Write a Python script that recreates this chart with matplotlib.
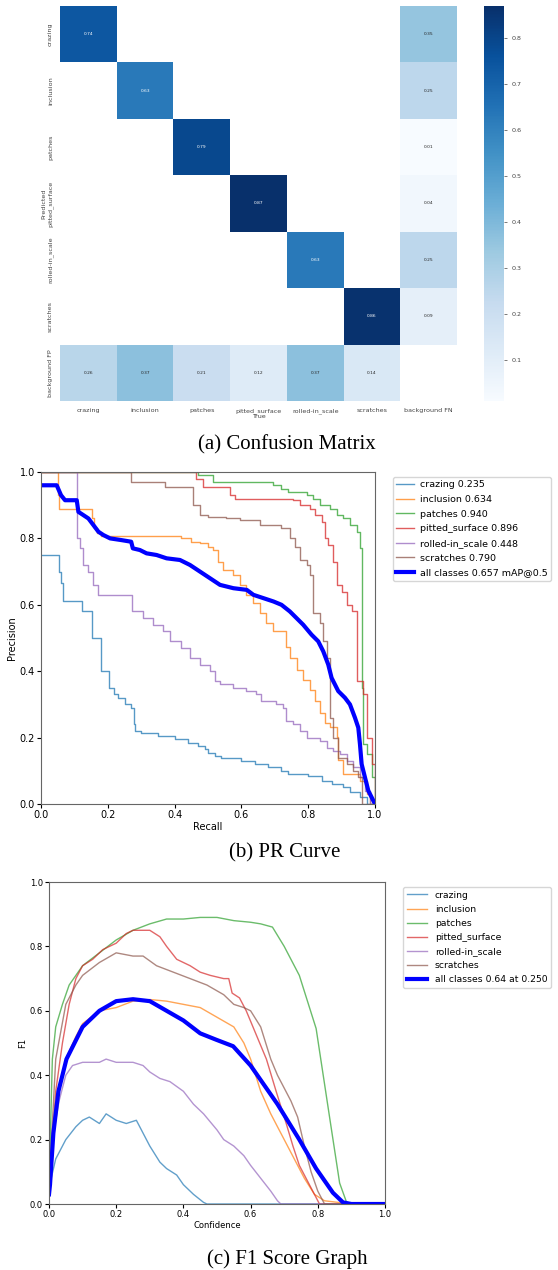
import numpy as np
import matplotlib
matplotlib.use("Agg")
import matplotlib.pyplot as plt
import seaborn as sns

# ---- confusion matrix data ----
pred_labels = ["crazing", "inclusion", "patches", "pitted_surface", "rolled-in_scale", "scratches", "background FP"]
true_labels = ["crazing", "inclusion", "patches", "pitted_surface", "rolled-in_scale", "scratches", "background FN"]
diag_vals = [0.74, 0.63, 0.79, 0.87, 0.63, 0.86]
bg_fn_vals = [0.35, 0.25, 0.01, 0.04, 0.25, 0.09]
bg_fp_vals = [0.26, 0.37, 0.21, 0.12, 0.37, 0.14]

# ---- PR curve data (recall, precision) ----
class_names = ["crazing", "inclusion", "patches", "pitted_surface", "rolled-in_scale", "scratches"]
ap_vals = [0.235, 0.634, 0.940, 0.896, 0.448, 0.790]
map50 = 0.657

crazing_r = [0, 0.055, 0.060, 0.065, 0.122, 0.152, 0.180, 0.205, 0.220, 0.232, 0.252, 0.270, 0.277, 0.282, 0.30,
             0.35, 0.40, 0.44, 0.47, 0.49, 0.50, 0.52, 0.54, 0.60, 0.64, 0.68, 0.72, 0.74, 0.80, 0.84, 0.87,
             0.905, 0.925, 0.955, 0.975, 1.0]
crazing_p = [0.75, 0.70, 0.665, 0.61, 0.58, 0.50, 0.40, 0.35, 0.33, 0.32, 0.30, 0.29, 0.24, 0.22, 0.215,
             0.205, 0.195, 0.185, 0.175, 0.165, 0.155, 0.145, 0.14, 0.13, 0.12, 0.11, 0.10, 0.09, 0.085, 0.07, 0.06,
             0.05, 0.035, 0.02, 0.0, 0.0]

inclusion_r = [0, 0.050, 0.055, 0.152, 0.160, 0.168, 0.180, 0.42, 0.45, 0.476, 0.50, 0.516, 0.53, 0.546, 0.576,
               0.596, 0.615, 0.636, 0.655, 0.675, 0.695, 0.735, 0.745, 0.765, 0.785, 0.805, 0.82, 0.835, 0.85,
               0.865, 0.885, 0.89, 0.905, 0.955, 0.975, 0.985, 1.0]
inclusion_p = [1.0, 0.93, 0.89, 0.86, 0.83, 0.815, 0.808, 0.80, 0.79, 0.786, 0.775, 0.766, 0.73, 0.705, 0.69,
               0.66, 0.63, 0.605, 0.575, 0.545, 0.52, 0.474, 0.44, 0.404, 0.374, 0.344, 0.31, 0.273, 0.243,
               0.233, 0.203, 0.133, 0.09, 0.07, 0.03, 0.0, 0.0]

patches_r = [0, 0.47, 0.515, 0.695, 0.72, 0.74, 0.795, 0.815, 0.835, 0.865, 0.885, 0.905, 0.925, 0.945, 0.955,
             0.962, 0.965, 0.975, 0.99, 1.0]
patches_p = [1.0, 0.99, 0.97, 0.96, 0.95, 0.94, 0.93, 0.92, 0.90, 0.89, 0.87, 0.86, 0.84, 0.82, 0.77,
             0.35, 0.18, 0.15, 0.08, 0.0]

pitted_r = [0, 0.465, 0.485, 0.565, 0.58, 0.755, 0.775, 0.805, 0.82, 0.84, 0.85, 0.86, 0.875, 0.885, 0.90,
            0.915, 0.93, 0.945, 0.965, 0.975, 0.99, 1.0]
pitted_p = [1.0, 0.98, 0.955, 0.93, 0.92, 0.915, 0.90, 0.89, 0.87, 0.85, 0.80, 0.78, 0.73, 0.66, 0.64,
            0.60, 0.58, 0.37, 0.33, 0.20, 0.12, 0.0]

rolled_r = [0, 0.108, 0.117, 0.127, 0.14, 0.157, 0.172, 0.272, 0.305, 0.335, 0.366, 0.386, 0.42, 0.445, 0.475,
            0.505, 0.52, 0.536, 0.576, 0.615, 0.645, 0.66, 0.705, 0.725, 0.735, 0.755, 0.775, 0.795, 0.835,
            0.855, 0.875, 0.895, 0.915, 0.935, 0.955, 0.97, 0.985, 1.0]
rolled_p = [1.0, 0.80, 0.77, 0.72, 0.70, 0.66, 0.63, 0.58, 0.56, 0.54, 0.52, 0.49, 0.47, 0.44, 0.42,
            0.40, 0.37, 0.36, 0.35, 0.34, 0.33, 0.31, 0.30, 0.29, 0.25, 0.24, 0.22, 0.20, 0.19,
            0.17, 0.16, 0.15, 0.13, 0.11, 0.08, 0.04, 0.0, 0.0]

scratches_r = [0, 0.27, 0.37, 0.455, 0.475, 0.50, 0.555, 0.595, 0.655, 0.72, 0.745, 0.76, 0.775, 0.795, 0.805,
               0.815, 0.835, 0.845, 0.855, 0.865, 0.875, 0.89, 0.915, 0.935, 0.95, 0.96, 1.0]
scratches_p = [1.0, 0.97, 0.955, 0.90, 0.87, 0.865, 0.86, 0.855, 0.84, 0.83, 0.80, 0.775, 0.735, 0.72, 0.69,
               0.575, 0.545, 0.49, 0.44, 0.26, 0.20, 0.14, 0.12, 0.10, 0.08, 0.0, 0.0]

all_r = [0, 0.047, 0.06, 0.072, 0.107, 0.112, 0.127, 0.142, 0.157, 0.172, 0.187, 0.207, 0.24, 0.27, 0.275,
         0.296, 0.316, 0.346, 0.376, 0.416, 0.446, 0.476, 0.506, 0.536, 0.576, 0.616, 0.636, 0.666, 0.696,
         0.72, 0.745, 0.765, 0.785, 0.81, 0.83, 0.845, 0.86, 0.87, 0.89, 0.91, 0.925, 0.94, 0.95, 0.955,
         0.96, 0.97, 0.98, 0.99, 1.0]
all_p = [0.96, 0.96, 0.93, 0.915, 0.915, 0.88, 0.87, 0.86, 0.84, 0.82, 0.81, 0.80, 0.795, 0.79, 0.77,
         0.765, 0.755, 0.75, 0.74, 0.735, 0.72, 0.70, 0.68, 0.66, 0.65, 0.645, 0.63, 0.62, 0.61,
         0.60, 0.58, 0.56, 0.54, 0.51, 0.49, 0.46, 0.42, 0.38, 0.34, 0.32, 0.30, 0.26, 0.23, 0.18,
         0.12, 0.08, 0.04, 0.02, 0.0]

# ---- F1 curve data (confidence, f1) ----
f1_crazing_c = [0, 0.02, 0.05, 0.08, 0.10, 0.12, 0.15, 0.17, 0.20, 0.23, 0.26, 0.28, 0.30, 0.33, 0.35, 0.38,
                0.40, 0.43, 0.46, 0.47, 1.0]
f1_crazing_v = [0.05, 0.14, 0.20, 0.24, 0.26, 0.27, 0.25, 0.28, 0.26, 0.25, 0.26, 0.22, 0.18, 0.13, 0.11, 0.09,
                0.06, 0.03, 0.005, 0.0, 0.0]

f1_inclusion_c = [0, 0.02, 0.05, 0.08, 0.10, 0.15, 0.20, 0.25, 0.30, 0.35, 0.40, 0.45, 0.50, 0.55, 0.58, 0.60,
                  0.63, 0.66, 0.70, 0.73, 0.76, 0.79, 0.82, 0.86, 0.90, 1.0]
f1_inclusion_v = [0.05, 0.30, 0.45, 0.52, 0.56, 0.60, 0.61, 0.63, 0.635, 0.63, 0.62, 0.61, 0.58, 0.55, 0.50, 0.45,
                  0.35, 0.28, 0.20, 0.14, 0.08, 0.03, 0.01, 0.005, 0.0, 0.0]

f1_patches_c = [0, 0.01, 0.02, 0.04, 0.06, 0.10, 0.15, 0.20, 0.25, 0.30, 0.35, 0.40, 0.45, 0.50, 0.55, 0.60,
                0.63, 0.665, 0.70, 0.745, 0.795, 0.835, 0.865, 0.885, 0.90, 1.0]
f1_patches_v = [0.05, 0.45, 0.55, 0.62, 0.68, 0.74, 0.78, 0.82, 0.85, 0.87, 0.885, 0.885, 0.89, 0.89, 0.88, 0.875,
                0.87, 0.86, 0.80, 0.71, 0.545, 0.27, 0.065, 0.007, 0.0, 0.0]

f1_pitted_c = [0, 0.02, 0.04, 0.06, 0.08, 0.10, 0.13, 0.16, 0.20, 0.23, 0.25, 0.30, 0.33, 0.35, 0.38, 0.42,
               0.45, 0.48, 0.52, 0.535, 0.545, 0.567, 0.587, 0.607, 0.627, 0.647, 0.676, 0.706, 0.726, 0.745,
               0.765, 0.785, 0.805, 1.0]
f1_pitted_v = [0.05, 0.35, 0.50, 0.62, 0.70, 0.74, 0.76, 0.79, 0.81, 0.84, 0.85, 0.85, 0.83, 0.80, 0.76, 0.74,
               0.72, 0.71, 0.70, 0.70, 0.655, 0.64, 0.60, 0.55, 0.50, 0.45, 0.35, 0.25, 0.18, 0.12,
               0.08, 0.04, 0.0, 0.0]

f1_rolled_c = [0, 0.01, 0.03, 0.05, 0.07, 0.10, 0.15, 0.17, 0.20, 0.25, 0.28, 0.30, 0.33, 0.36, 0.40, 0.43,
               0.46, 0.50, 0.52, 0.55, 0.58, 0.60, 0.63, 0.66, 0.68, 0.69, 1.0]
f1_rolled_v = [0.05, 0.20, 0.32, 0.40, 0.43, 0.44, 0.44, 0.45, 0.44, 0.44, 0.43, 0.41, 0.39, 0.38, 0.35, 0.31,
               0.28, 0.23, 0.20, 0.18, 0.15, 0.12, 0.08, 0.04, 0.01, 0.0, 0.0]

f1_scratches_c = [0, 0.02, 0.05, 0.08, 0.10, 0.15, 0.20, 0.25, 0.28, 0.32, 0.37, 0.42, 0.47, 0.52, 0.55, 0.58,
                  0.60, 0.63, 0.66, 0.68, 0.70, 0.72, 0.74, 0.76, 0.78, 0.80, 0.82, 1.0]
f1_scratches_v = [0.05, 0.45, 0.62, 0.68, 0.71, 0.75, 0.78, 0.77, 0.77, 0.74, 0.72, 0.70, 0.68, 0.65, 0.62, 0.61,
                  0.60, 0.55, 0.45, 0.40, 0.36, 0.32, 0.27, 0.18, 0.10, 0.04, 0.0, 0.0]

f1_all_c = [0, 0.003, 0.013, 0.028, 0.052, 0.10, 0.15, 0.20, 0.25, 0.30, 0.35, 0.40, 0.45, 0.498, 0.548,
            0.60, 0.68, 0.745, 0.795, 0.845, 0.875, 0.90, 1.0]
f1_all_v = [0.03, 0.06, 0.22, 0.35, 0.45, 0.55, 0.60, 0.63, 0.636, 0.63, 0.60, 0.57, 0.53, 0.51, 0.49,
            0.43, 0.31, 0.20, 0.11, 0.035, 0.005, 0.0, 0.0]
f1_best = 0.64
f1_best_conf = 0.250

pr_data = [(crazing_r, crazing_p), (inclusion_r, inclusion_p), (patches_r, patches_p),
           (pitted_r, pitted_p), (rolled_r, rolled_p), (scratches_r, scratches_p)]
f1_data = [(f1_crazing_c, f1_crazing_v), (f1_inclusion_c, f1_inclusion_v), (f1_patches_c, f1_patches_v),
           (f1_pitted_c, f1_pitted_v), (f1_rolled_c, f1_rolled_v), (f1_scratches_c, f1_scratches_v)]
colors = ["tab:blue", "tab:orange", "tab:green", "tab:red", "tab:purple", "tab:brown"]

W, H = 558, 1270
fig = plt.figure(figsize=(W / 100, H / 100), dpi=100)


def box(x0, y0, x1, y1):
    # pixel box -> figure fraction
    return [x0 / W, 1 - y1 / H, (x1 - x0) / W, (y1 - y0) / H]


# ---- (a) confusion matrix ----
n = len(diag_vals)
cm = np.full((n + 1, n + 1), np.nan)
for i in range(n):
    cm[i, i] = diag_vals[i]
    cm[i, n] = bg_fn_vals[i]
    cm[n, i] = bg_fp_vals[i]

ax_cm = fig.add_axes(box(60, 6, 457, 401))
ax_cb = fig.add_axes(box(484, 6, 504, 401))
sns.heatmap(cm, ax=ax_cm, cbar_ax=ax_cb, cmap="Blues", annot=True, fmt=".2f",
            annot_kws={"size": 3.2}, xticklabels=true_labels, yticklabels=pred_labels)
ax_cm.tick_params(length=0, labelsize=4.6, labelcolor="#444", pad=5)
ax_cm.set_yticklabels(pred_labels, rotation=90, va="center")
ax_cm.set_xticklabels(true_labels, rotation=0)
ax_cm.set_xlabel("True", fontsize=4.6, color="#444", labelpad=0)
ax_cm.set_ylabel("Predicted", fontsize=4.6, color="#444", labelpad=1)
ax_cb.tick_params(labelsize=4.6, labelcolor="#444", length=2, width=0.5, color="#444")

# ---- (b) PR curve ----
ax_pr = fig.add_axes(box(41, 472, 375, 804))
for (r, p), name, ap, c in zip(pr_data, class_names, ap_vals, colors):
    ax_pr.plot(r, p, drawstyle="steps-post", lw=1, color=c, alpha=0.75, label=f"{name} {ap:.3f}")
ax_pr.plot(all_r, all_p, lw=3, color="blue", label=f"all classes {map50:.3f} mAP@0.5")
ax_pr.set_xlim(0, 1)
ax_pr.set_ylim(0, 1)
ax_pr.set_xlabel("Recall", fontsize=7, labelpad=1)
ax_pr.set_ylabel("Precision", fontsize=7, labelpad=2)
ax_pr.tick_params(labelsize=7, length=3, pad=1.5)
ax_pr.legend(loc="upper left", bbox_to_anchor=(393 / W, 1 - 477 / H), bbox_transform=fig.transFigure,
             fontsize=6.8, borderaxespad=0, handlelength=1.9, handletextpad=0.6, borderpad=0.35,
             labelspacing=0.6)

# ---- (c) F1 curve ----
ax_f1 = fig.add_axes(box(49, 882, 385, 1204))
for (cf, v), name, c in zip(f1_data, class_names, colors):
    ax_f1.plot(cf, v, lw=1, color=c, alpha=0.7, label=name)
ax_f1.plot(f1_all_c, f1_all_v, lw=3, color="blue", label=f"all classes {f1_best:.2f} at {f1_best_conf:.3f}")
ax_f1.set_xlim(0, 1)
ax_f1.set_ylim(0, 1)
ax_f1.set_xlabel("Confidence", fontsize=6, labelpad=1)
ax_f1.set_ylabel("F1", fontsize=6, labelpad=2)
ax_f1.tick_params(labelsize=6, length=3, pad=1.5)
ax_f1.legend(loc="upper left", bbox_to_anchor=(403 / W, 1 - 887 / H), bbox_transform=fig.transFigure,
             fontsize=6.7, borderaxespad=0, handlelength=2.2, labelspacing=0.55)

for ax in (ax_pr, ax_f1):
    for s in ax.spines.values():
        s.set_color("#666")

# ---- captions ----
cap = dict(ha="center", va="center", fontsize=15, family="Liberation Serif")
fig.text(287 / W, 1 - 445 / H, "(a) Confusion Matrix", **cap)
fig.text(285 / W, 1 - 853 / H, "(b) PR Curve", **cap)
fig.text(287 / W, 1 - 1259 / H, "(c) F1 Score Graph", **cap)

fig.savefig("out.png", dpi=100)
